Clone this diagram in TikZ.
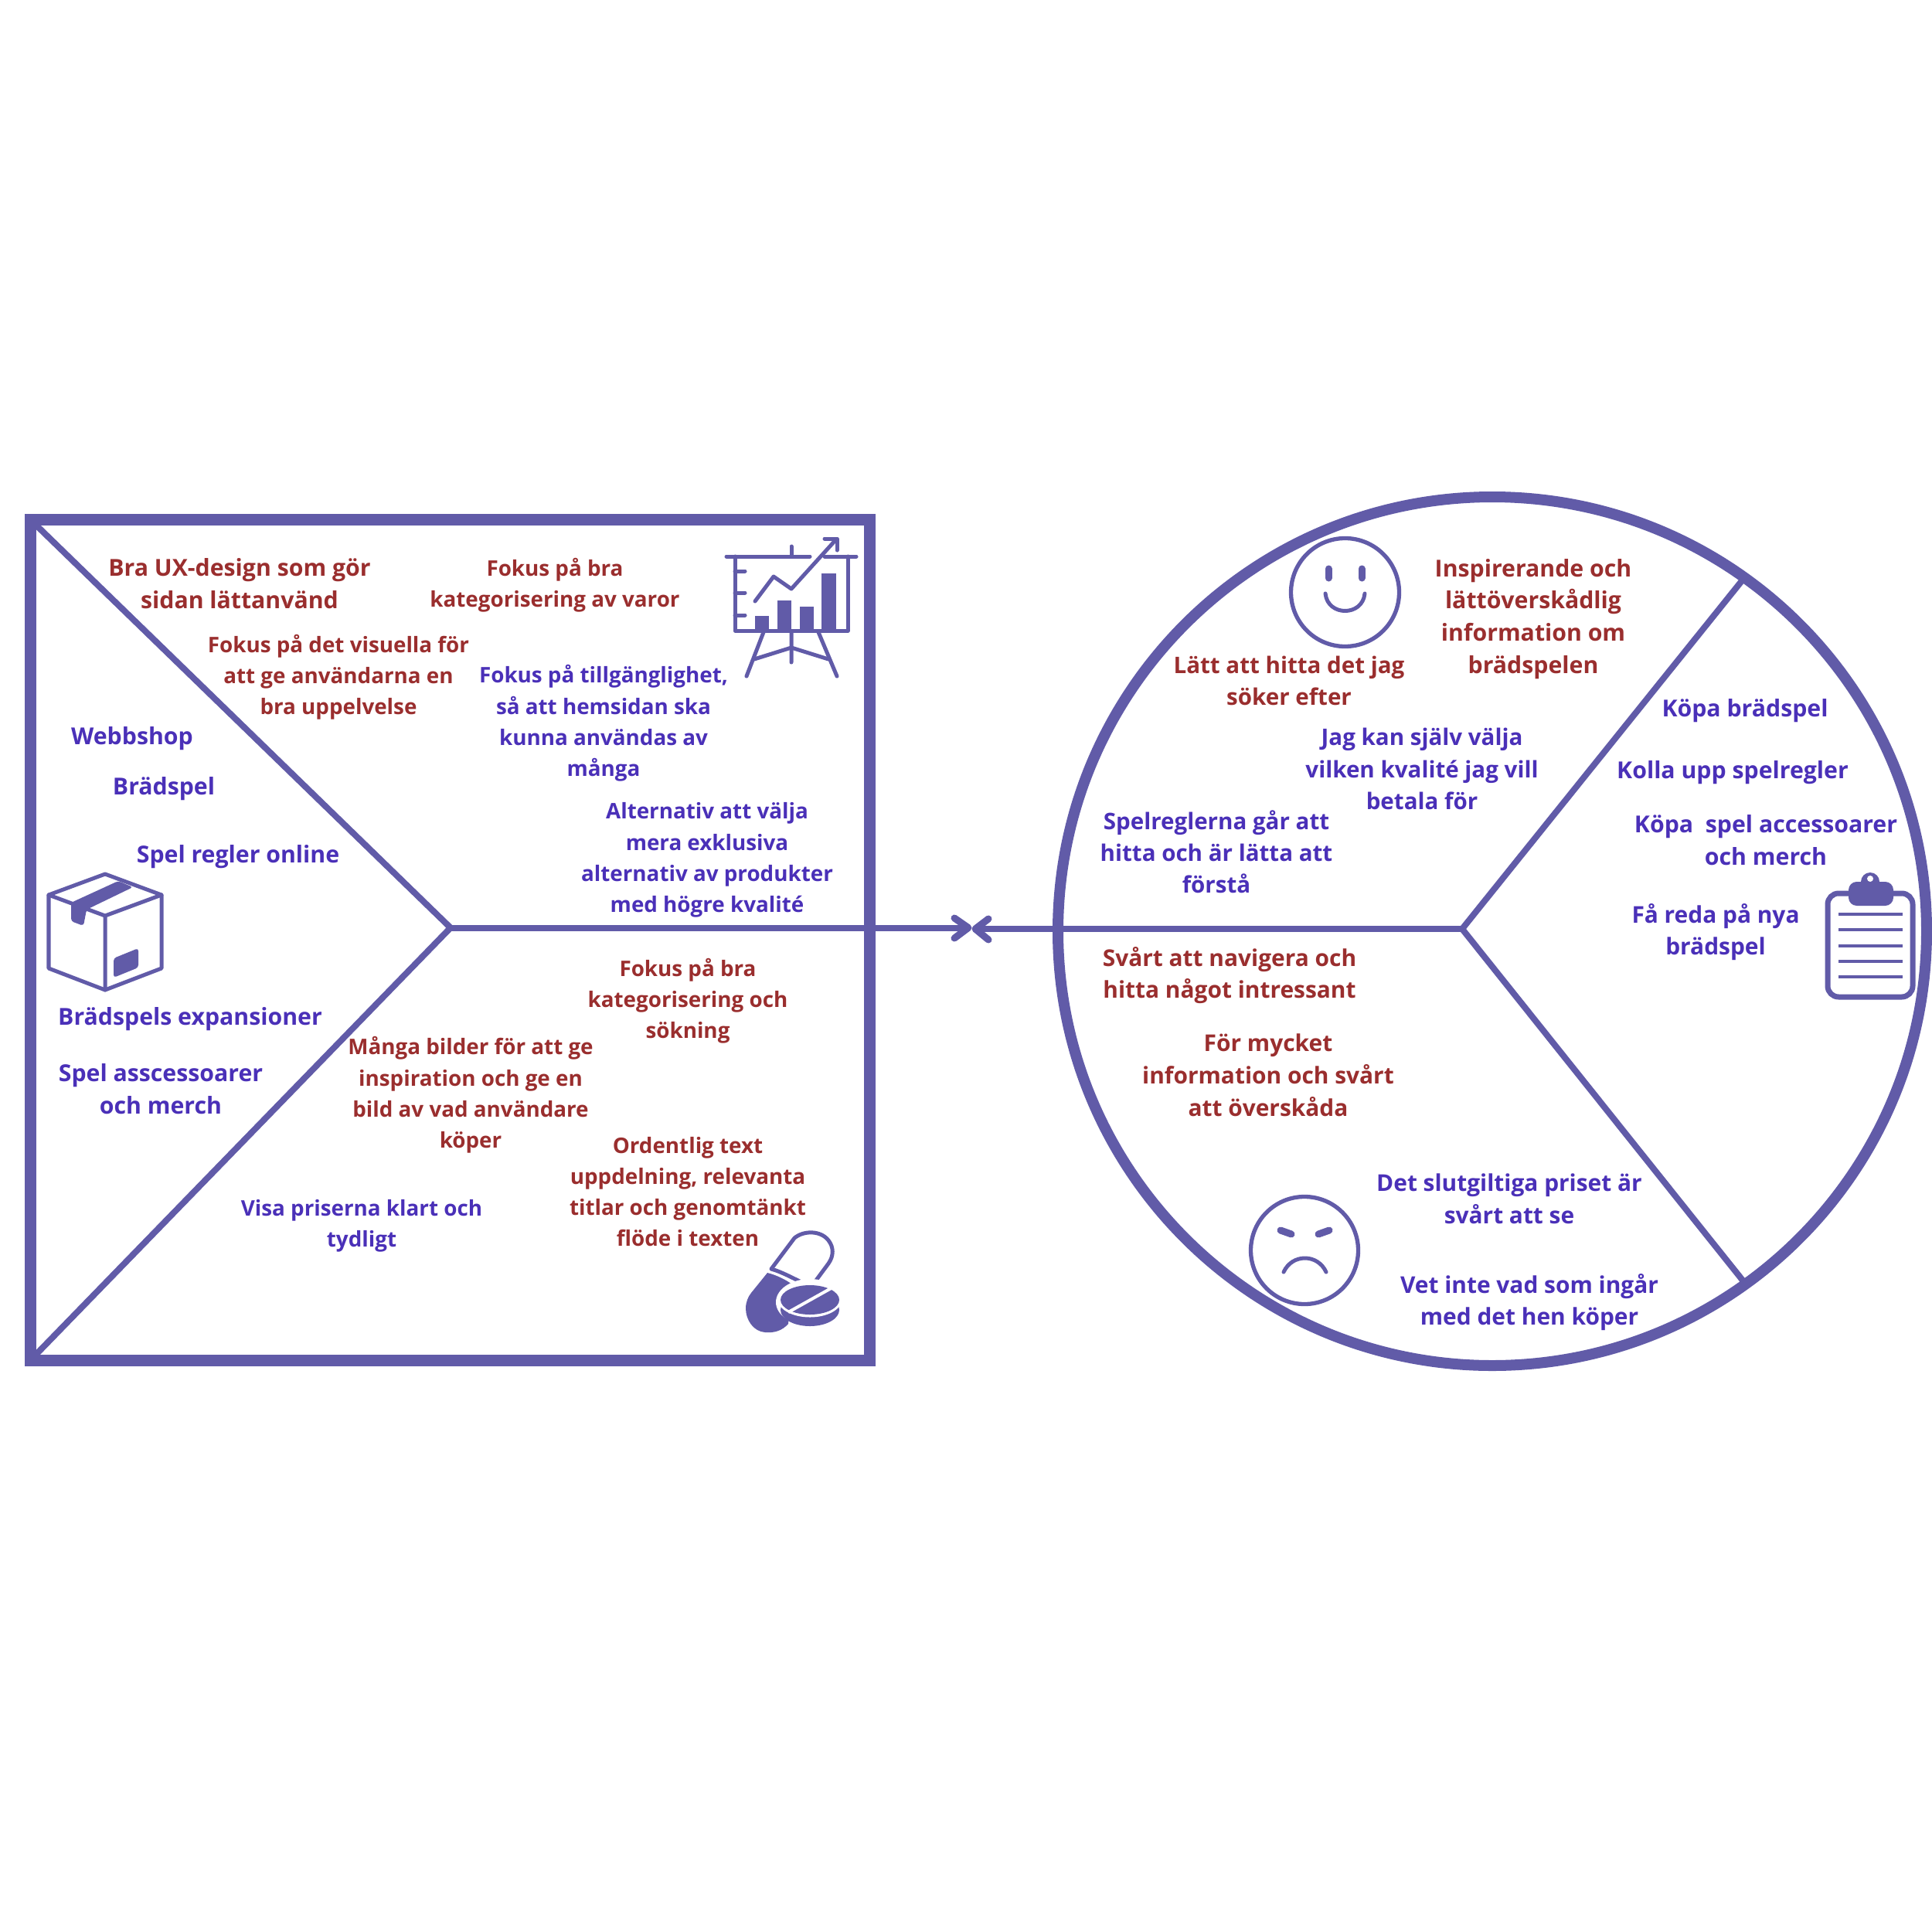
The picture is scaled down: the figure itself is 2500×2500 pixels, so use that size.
\documentclass[tikz,border=0pt]{standalone}
\usepackage{fontspec}
\setmainfont{Open Sans}
\definecolor{frame}{HTML}{615BA8}
\definecolor{redtxt}{HTML}{9A2E2E}
\definecolor{bluetxt}{HTML}{4A30B8}
\tikzset{
  x=0.01cm,y=-0.01cm,
  txt/.style={inner sep=0,align=center},
  big/.style={font=\fontsize{8.6}{11.9}\selectfont\bfseries},
  near/.style={font=\fontsize{8.5}{11.9}\selectfont\bfseries},
  mid/.style={font=\fontsize{8.4}{11.7}\selectfont\bfseries},
  small/.style={font=\fontsize{7.9}{11.45}\selectfont\bfseries},
  redt/.style={txt,text=redtxt},
  bluet/.style={txt,text=bluetxt},
  thick line/.style={draw=frame,line width=8*0.2845pt},
  icon/.style={draw=frame,line width=5*0.2845pt,line cap=round,line join=round},
  solid icon/.style={fill=frame,draw=none},
  arrow barb/.style={draw=frame,line width=9*0.2845pt,line cap=round,line join=round},
}
\begin{document}
\begin{tikzpicture}
\useasboundingbox (0,0) rectangle (2500,2500);
\fill[white] (0,0) rectangle (2500,2500);
% ---- left square
\coordinate (sqTL) at (39.5,672.5);
\coordinate (sqBL) at (39.5,1760);
\coordinate (vL) at (583,1200.5);
\coordinate (tip) at (1252,1200.5);
\draw[frame,line width=15*0.2845pt,miter limit=10] (39.5,672.5) rectangle (1125.5,1760);
\draw[thick line] (sqTL) -- (vL) -- (sqBL);
\draw[thick line] (vL) -- (tip);
\draw[arrow barb] (1235,1188) -- (1253,1200.5) -- (1235,1214);
% ---- right circle
\coordinate (cC) at (1931,1205);
\coordinate (vR) at (1892,1202);
\coordinate (tipR) at (1264,1202);
\coordinate (spokeU) at (2256,749);
\coordinate (spokeD) at (2256,1658);
\draw[frame,line width=14*0.2845pt] (cC) circle (562);
\draw[thick line] (tipR) -- (vR);
\draw[thick line] (spokeU) -- (vR) -- (spokeD);
\draw[arrow barb] (1279,1189) -- (1262,1202) -- (1279,1216);
% ---- texts, red
\node[redt,big] (t1) at (310,755) {Bra UX-design som gör\\sidan lättanvänd};
\node[redt,small] (t2) at (718,757) {Fokus på bra\\kategorisering av varor};
\node[redt,small] (t3) at (438,876) {Fokus på det visuella för\\att ge användarna en\\bra uppelvelse};
\node[redt,big] (t4) at (1984,801) {Inspirerande och\\lättöverskådlig\\information om\\brädspelen};
\node[redt,mid] (t5) at (1668,881) {Lätt att hitta det jag\\söker efter};
\node[redt,small] (t6) at (890,1295) {Fokus på bra\\kategorisering och\\sökning};
\node[redt,small] (t7) at (609,1417) {Många bilder för att ge\\inspiration och ge en\\bild av vad användare\\köper};
\node[redt,small] (t8) at (890,1542) {Ordentlig text\\uppdelning, relevanta\\titlar och genomtänkt\\flöde i texten};
\node[redt,near] (t9) at (1591,1262) {Svårt att navigera och\\hitta något intressant};
\node[redt,near] (t10) at (1641,1391) {För mycket\\information och svårt\\att överskåda};
% ---- texts, blue
\node[bluet,small] (b1) at (781,936) {Fokus på tillgänglighet,\\så att hemsidan ska\\kunna användas av\\många};
\node[bluet,small] (b2) at (915,1113) {Alternativ att välja\\mera exklusiva\\alternativ av produkter\\med högre kvalité};
\node[bluet,big] (b3) at (171,956) {Webbshop};
\node[bluet,big] (b4) at (212,1021) {Brädspel};
\node[bluet,big] (b5) at (308,1109) {Spel regler online};
\node[bluet,big] (b6) at (246,1319) {Brädspels expansioner};
\node[bluet,big] (b7) at (208,1409) {Spel asscessoarer\\och merch};
\node[bluet,small] (b8) at (468,1586) {Visa priserna klart och\\tydligt};
\node[bluet,mid] (b9) at (1840,995) {Jag kan själv välja\\vilken kvalité jag vill\\betala för};
\node[bluet,mid] (b10) at (1574,1102) {Spelreglerna går att\\hitta och är lätta att\\förstå};
\node[bluet,big] (b11) at (2258,920) {Köpa brädspel};
\node[bluet,big] (b12) at (2242,1000) {Kolla upp spelregler};
\node[bluet,big] (b13) at (2285,1087) {Köpa\ \ spel accessoarer\\och merch};
\node[bluet,near] (b14) at (2220,1206) {Få reda på nya\\brädspel};
\node[bluet,near] (b15) at (1953,1551) {Det slutgiltiga priset är\\svårt att se};
\node[bluet,near] (b16) at (1979,1685) {Vet inte vad som ingår\\med det hen köper};
% ---- chart icon
\draw[icon] (940,720) -- (1048,720) (1067,720) -- (1108,720) (1024,707) -- (1024,720);
\draw[icon] (951,720) -- (951,816) -- (1097,816) -- (1097,720);
\draw[icon] (951,739) -- (964,739) (951,767) -- (964,767) (951,796) -- (964,796);
\draw[icon] (977,778) -- (1001,746) -- (1024,762) -- (1082,698);
\draw[icon] (1067,697) -- (1083,697) -- (1083,712);
\fill[solid icon] (977,816) rectangle (995,797);
\fill[solid icon] (1006,816) rectangle (1024,777);
\fill[solid icon] (1035,816) rectangle (1053,785);
\fill[solid icon] (1063,816) rectangle (1082,742);
\draw[icon] (988,818) -- (966,875) (1059,818) -- (1083,875) (1024,818) -- (1024,857);
\draw[icon] (976,853) -- (1024,838) -- (1072,853);
% ---- box icon
\draw[icon] (136,1131) -- (209,1158) -- (209,1253) -- (136,1281) -- (63,1253) -- (63,1158) -- cycle;
\draw[icon] (63,1158) -- (136,1185) -- (209,1158) (136,1185) -- (136,1281);
\fill[solid icon,rounded corners=1pt] (153,1140) -- (172,1148) -- (112,1177) -- (108,1198) -- (92,1192) -- (92,1168) -- cycle;
\fill[solid icon,rounded corners=1pt] (147,1240) -- (179,1227) -- (179,1252) -- (147,1265) -- cycle;
% ---- pill icon
\draw[icon] (998,1642) -- (1028,1602) .. controls (1040,1592) and (1062,1592) .. (1072,1605) .. controls (1079,1614) and (1079,1625) .. (1072,1635) -- (1055,1658);
\draw[icon,line cap=butt] (998,1642) .. controls (1012,1646) and (1026,1654) .. (1035,1658);
\fill[solid icon] (993,1647) .. controls (1005,1650) and (1017,1656) .. (1025,1662) -- (1020,1713) .. controls (1012,1722) and (1002,1725) .. (990,1724) .. controls (975,1723) and (965,1708) .. (965,1693) .. controls (965,1685) and (968,1678) .. (972,1673) -- cycle;
\fill[white] (1048,1685) ellipse (44 and 30);
\fill[solid icon] (1048,1695) ellipse (38 and 21);
\fill[white] (1048,1682) ellipse (41 and 22.5);
\fill[solid icon] (1048,1682) ellipse (38 and 19);
\draw[white,line width=4*0.2845pt] (1020,1698) -- (1079,1665);
% ---- clipboard icon
\draw[frame,line width=7*0.2845pt,rounded corners=4pt] (2365,1156) rectangle (2475,1290);
\fill[solid icon,rounded corners=3pt] (2392,1141) rectangle (2450,1172);
\fill[solid icon] (2420,1141) circle (12);
\fill[white] (2420,1137) circle (4);
\foreach \yy in {1183,1203,1224,1244,1264}
  \fill[solid icon] (2379,\yy-2.4) rectangle (2462,\yy+2.4);
% ---- smile
\draw[frame,line width=5.3*0.2845pt] (1740.5,766.5) circle (70);
\draw[frame,line width=9*0.2845pt,line cap=round] (1719,736) -- (1719,748) (1762,736) -- (1762,748);
\draw[icon] (1715,768) .. controls (1718,798) and (1763,798) .. (1766,768);
% ---- frown
\draw[frame,line width=5.3*0.2845pt] (1688,1618) circle (69.5);
\draw[frame,line width=9*0.2845pt,line cap=round] (1657,1592) -- (1671,1597) (1720,1592) -- (1706,1597);
\draw[icon] (1661,1646) .. controls (1672,1622) and (1705,1622) .. (1716,1646);
\end{tikzpicture}
\end{document}
